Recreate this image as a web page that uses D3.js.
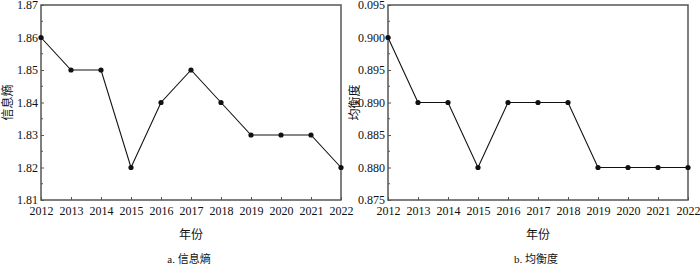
<!DOCTYPE html>
<html>
<head>
<meta charset="utf-8">
<script src="https://cdn.jsdelivr.net/npm/d3@7/dist/d3.min.js"></script>
<style>
  body { margin: 0; background: #fff; }
  text { font-family: "Liberation Serif", "Times New Roman", serif; fill: #111; }
  text.cjk { font-family: "Liberation Serif", "Noto Sans CJK SC", sans-serif; }
</style>
</head>
<body>
<div id="chart"></div>
<script>
const years = [2012, 2013, 2014, 2015, 2016, 2017, 2018, 2019, 2020, 2021, 2022];
const entropy = [1.86, 1.85, 1.85, 1.82, 1.84, 1.85, 1.84, 1.83, 1.83, 1.83, 1.82];
const evenness = [0.900, 0.890, 0.890, 0.880, 0.890, 0.890, 0.890, 0.880, 0.880, 0.880, 0.880];
const entropyTicks = [1.81, 1.82, 1.83, 1.84, 1.85, 1.86, 1.87];
const entropyLabels = ['1.81', '1.82', '1.83', '1.84', '1.85', '1.86', '1.87'];
const evenTicks = [0.875, 0.880, 0.885, 0.890, 0.895, 0.900, 0.905];
const evenLabels = ['0.875', '0.880', '0.885', '0.890', '0.895', '0.900', '0.095'];

const svg = d3.select('#chart').append('svg')
  .attr('width', 700).attr('height', 265);

function panel(left, right, values, ticks, labels, yTitle, caption) {
  const top = 5, bottom = 200;
  const x = d3.scaleLinear().domain([2012, 2022]).range([left, right]);
  const y = d3.scaleLinear().domain([ticks[0], ticks[ticks.length - 1]]).range([bottom, top]);
  const g = svg.append('g');

  // minor ticks on left axis
  const minors = d3.range(ticks.length - 1).map(i => (ticks[i] + ticks[i + 1]) / 2);
  g.selectAll('.minor').data(minors).join('line')
    .attr('x1', left).attr('x2', left + 2)
    .attr('y1', d => y(d)).attr('y2', d => y(d))
    .attr('stroke', '#555').attr('stroke-width', 1);

  // left axis
  const ya = g.append('g').attr('transform', `translate(${left},0)`)
    .call(d3.axisLeft(y).tickValues(ticks).tickSizeInner(-3).tickSizeOuter(0)
      .tickPadding(3).tickFormat((d, i) => labels[i]));
  ya.select('.domain').remove();
  ya.selectAll('.tick line').attr('stroke', '#555');
  ya.selectAll('text').style('font-size', '12px').style('font-family', '"Liberation Serif", serif').attr('fill', '#111');

  // bottom axis
  const xa = g.append('g').attr('transform', `translate(0,${bottom})`)
    .call(d3.axisBottom(x).tickValues(years).tickSizeInner(-3).tickSizeOuter(0)
      .tickPadding(6).tickFormat(d3.format('d')));
  xa.select('.domain').remove();
  xa.selectAll('.tick line').attr('stroke', '#555');
  xa.selectAll('text').style('font-size', '12px').style('font-family', '"Liberation Serif", serif').attr('fill', '#111');

  // frame
  g.append('rect')
    .attr('x', left).attr('y', top)
    .attr('width', right - left).attr('height', bottom - top)
    .attr('fill', 'none').attr('stroke', '#555').attr('stroke-width', 1.5);

  const line = d3.line().x((d, i) => x(years[i])).y(d => y(d));
  g.append('path').datum(values)
    .attr('d', line).attr('fill', 'none').attr('stroke', '#111').attr('stroke-width', 1.1);

  g.selectAll('.pt').data(values).join('circle')
    .attr('cx', (d, i) => x(years[i])).attr('cy', d => y(d))
    .attr('r', 2.6).attr('fill', '#111');

  g.append('text').attr('class', 'cjk')
    .attr('transform', `translate(${left - 33},${(top + bottom) / 2}) rotate(-90)`)
    .attr('dy', '0.35em')
    .attr('text-anchor', 'middle').style('font-size', '12px')
    .text(yTitle);

  g.append('text').attr('class', 'cjk')
    .attr('x', (left + right) / 2).attr('y', 239)
    .attr('text-anchor', 'middle').style('font-size', '12px')
    .text('年份');

  g.append('text').attr('class', 'cjk')
    .attr('x', (left + right) / 2 - 2).attr('y', 263)
    .attr('text-anchor', 'middle').style('font-size', '11px')
    .text(caption);
}

panel(41, 341, entropy, entropyTicks, entropyLabels, '信息熵', 'a. 信息熵');
panel(388, 688, evenness, evenTicks, evenLabels, '均衡度', 'b. 均衡度');
</script>
</body>
</html>
